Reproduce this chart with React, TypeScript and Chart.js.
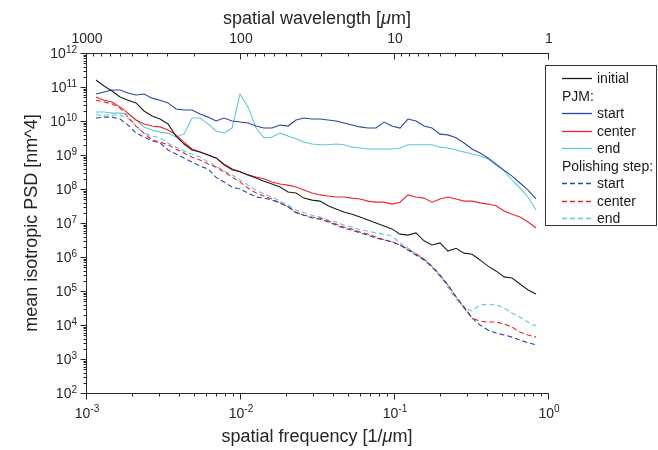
import React, { useEffect, useRef } from "react";
import { Chart, registerables } from "chart.js";

Chart.register(...registerables);

// spatial frequency [1/um]
const FREQUENCY = [
  1.161e-3, 1.309e-3, 1.475e-3, 1.663e-3, 1.874e-3, 2.113e-3, 2.381e-3, 2.683e-3,
  3.025e-3, 3.41e-3, 3.84e-3, 4.33e-3, 4.88e-3, 5.5e-3, 6.2e-3, 6.99e-3, 7.88e-3, 8.88e-3,
  1.0e-2, 1.127e-2, 1.271e-2, 1.432e-2, 1.614e-2, 1.819e-2, 2.05e-2, 2.31e-2, 2.6e-2, 2.94e-2,
  3.31e-2, 3.73e-2, 4.2e-2, 4.73e-2, 5.34e-2, 6.01e-2, 6.78e-2, 7.64e-2, 8.61e-2, 9.7e-2,
  0.1094, 0.1233, 0.1389, 0.1566, 0.1765, 0.199, 0.224, 0.253, 0.285, 0.321, 0.362, 0.408,
  0.46, 0.518, 0.584, 0.658, 0.742, 0.836,
];

const INITIAL = [
  1.6e11, 1.07e11, 7.6e10, 5.1e10, 4.1e10, 3.4e10, 1.97e10, 1.4e10,
  1.14e10, 8.2e9, 3.6e9, 2.1e9, 1.4e9, 1.22e9, 1.0e9, 8.2e8, 5.4e8, 3.9e8,
  3.2e8, 2.6e8, 2.1e8, 1.7e8, 1.4e8, 1.14e8, 8.2e7, 7.6e7, 5.4e7, 4.7e7,
  4.4e7, 3.2e7, 2.6e7, 2.1e7, 1.8e7, 1.5e7, 1.22e7, 1.0e7, 8.2e6, 6.7e6,
  4.7e6, 4.4e6, 5.1e6, 3.0e6, 2.25e6, 2.6e6, 1.5e6, 1.8e6, 1.3e6, 1.2e6, 8.2e5, 5.4e5,
  3.9e5, 2.6e5, 2.4e5, 1.6e5, 1.07e5, 8.2e4,
];

const PJM_START = [
  6.2e10, 7.1e10, 8.2e10, 8.2e10, 6.7e10, 5.8e10, 6.2e10, 4.7e10,
  4.1e10, 3.4e10, 2.25e10, 2.1e10, 2.1e10, 1.6e10, 1.3e10, 1.0e10, 1.22e10, 1.0e10,
  9.3e9, 8.7e9, 7.1e9, 6.2e9, 6.2e9, 7.6e9, 7.1e9, 1.07e10, 1.22e10, 1.14e10,
  1.14e10, 1.07e10, 1.0e10, 8.7e9, 7.6e9, 6.7e9, 6.2e9, 6.2e9, 9.3e9, 7.1e9,
  6.2e9, 1.14e10, 1.0e10, 7.1e9, 6.2e9, 4.1e9, 3.9e9, 3.2e9, 2.25e9, 1.5e9, 1.14e9, 8.2e8,
  5.4e8, 3.6e8, 2.4e8, 1.5e8, 9.3e7, 5.1e7,
];

const PJM_CENTER = [
  5.1e10, 4.1e10, 3.6e10, 2.6e10, 1.7e10, 1.07e10, 8.2e9, 7.1e9,
  6.7e9, 5.4e9, 3.9e9, 2.4e9, 1.5e9, 1.22e9, 1.0e9, 8.2e8, 5.1e8, 3.6e8,
  3.2e8, 2.6e8, 2.25e8, 2.0e8, 1.6e8, 1.4e8, 1.3e8, 1.14e8, 9.3e7, 7.6e7,
  6.7e7, 6.2e7, 5.8e7, 5.8e7, 5.4e7, 5.1e7, 4.4e7, 4.1e7, 4.1e7, 3.6e7,
  4.1e7, 6.7e7, 5.8e7, 5.4e7, 4.1e7, 5.1e7, 5.8e7, 5.1e7, 4.4e7, 4.4e7, 3.9e7, 3.6e7,
  3.2e7, 2.25e7, 1.8e7, 1.5e7, 1.07e7, 7.1e6,
];

const PJM_END = [
  1.84e10, 1.84e10, 1.7e10, 1.7e10, 1.6e10, 1.07e10, 6.7e9, 5.4e9,
  4.7e9, 4.4e9, 3.4e9, 4.1e9, 1.22e10, 1.22e10, 8.2e9, 5.1e9, 4.4e9, 6.2e9,
  6.2e10, 2.6e10, 6.2e9, 3.2e9, 3.4e9, 4.4e9, 3.6e9, 3.0e9, 2.4e9, 2.1e9,
  2.0e9, 2.0e9, 2.1e9, 2.0e9, 1.7e9, 1.6e9, 1.5e9, 1.5e9, 1.5e9, 1.5e9,
  1.6e9, 2.0e9, 2.0e9, 2.0e9, 2.0e9, 1.7e9, 1.6e9, 1.4e9, 1.22e9, 1.07e9, 9.3e8, 7.6e8,
  5.1e8, 3.4e8, 1.84e8, 1.07e8, 5.8e7, 2.4e7,
];

const POLISH_START = [
  1.22e10, 1.3e10, 1.3e10, 1.14e10, 7.6e9, 4.4e9, 3.4e9, 2.6e9,
  2.25e9, 1.4e9, 1.07e9, 8.2e8, 6.2e8, 4.7e8, 3.9e8, 2.2e8, 1.6e8, 1.14e8,
  1.0e8, 7.6e7, 5.8e7, 5.4e7, 4.7e7, 3.9e7, 3.0e7, 2.0e7, 1.7e7, 1.4e7,
  1.3e7, 1.07e7, 8.7e6, 7.1e6, 6.2e6, 5.1e6, 4.4e6, 3.6e6, 3.2e6, 2.8e6,
  2.25e6, 1.6e6, 1.14e6, 8.2e5, 5.1e5, 2.8e5, 1.5e5, 6.7e4, 3.4e4, 1.6e4, 1.0e4, 7.1e3,
  5.8e3, 5.1e3, 4.4e3, 3.6e3, 3.0e3, 2.6e3,
];

const POLISH_CENTER = [
  4.1e10, 3.6e10, 3.2e10, 2.4e10, 1.3e10, 7.1e9, 4.4e9, 2.8e9,
  2.4e9, 2.0e9, 1.5e9, 1.14e9, 8.7e8, 7.1e8, 5.4e8, 4.4e8, 3.2e8, 2.25e8,
  1.6e8, 1.07e8, 7.6e7, 6.2e7, 5.1e7, 3.9e7, 3.0e7, 2.1e7, 1.7e7, 1.5e7,
  1.4e7, 1.14e7, 9.3e6, 7.6e6, 6.7e6, 5.4e6, 4.7e6, 3.9e6, 3.2e6, 2.8e6,
  2.25e6, 1.7e6, 1.22e6, 8.7e5, 5.4e5, 3.0e5, 1.5e5, 6.7e4, 3.2e4, 1.6e4, 1.3e4, 1.22e4,
  1.22e4, 1.07e4, 8.7e3, 6.2e3, 5.1e3, 4.4e3,
];

const POLISH_END = [
  1.5e10, 1.5e10, 1.5e10, 1.5e10, 1.22e10, 7.1e9, 4.4e9, 3.6e9,
  3.2e9, 2.25e9, 1.7e9, 1.3e9, 1.07e9, 8.7e8, 6.2e8, 4.7e8, 3.4e8, 2.6e8,
  1.84e8, 1.3e8, 9.3e7, 7.1e7, 5.8e7, 4.4e7, 3.4e7, 2.4e7, 2.0e7, 1.7e7,
  1.5e7, 1.22e7, 1.07e7, 8.7e6, 7.6e6, 6.2e6, 5.8e6, 5.1e6, 4.7e6, 4.1e6,
  2.6e6, 1.84e6, 1.22e6, 8.7e5, 5.1e5, 2.8e5, 1.3e5, 5.8e4, 3.2e4, 2.6e4, 3.9e4, 4.1e4,
  3.9e4, 3.2e4, 2.25e4, 1.7e4, 1.22e4, 9.3e3,
];

// axis tick labels
const Y_TICK_EXPONENTS = [2, 3, 4, 5, 6, 7, 8, 9, 10, 11, 12];
const X_TICK_EXPONENTS = [-3, -2, -1, 0];
const WAVELENGTH_TICKS = [1000, 100, 10, 1];
const MINOR_STEPS = [2, 3, 4, 5, 6, 7, 8, 9];

const X_TITLE = ["spatial frequency [1/", "\u03bc", "m]"];
const X2_TITLE = ["spatial wavelength [", "\u03bc", "m]"];
const Y_TITLE = "mean isotropic PSD [nm^4]";

const FONT = "'Liberation Sans', Arial, Helvetica, sans-serif";
const INK = "#262626";
const BLACK = "#1e1e1e";
const BLUE = "#2d45a8";
const RED = "#f0262a";
const CYAN = "#63c7db";
const DASH = [5, 3];

type LegendRow = { text: string; color?: string; dash?: number[] };
const LEGEND_ROWS: LegendRow[] = [
  { text: "initial", color: BLACK, dash: [] },
  { text: "PJM:" },
  { text: "start", color: BLUE, dash: [] },
  { text: "center", color: RED, dash: [] },
  { text: "end", color: CYAN, dash: [] },
  { text: "Polishing step:" },
  { text: "start", color: BLUE, dash: DASH },
  { text: "center", color: RED, dash: DASH },
  { text: "end", color: CYAN, dash: DASH },
];

function drawPower(ctx: CanvasRenderingContext2D, exp: string, x: number, base: number, align: "center" | "right") {
  ctx.font = `14px ${FONT}`;
  const wb = ctx.measureText("10").width;
  ctx.font = `10px ${FONT}`;
  const we = ctx.measureText(exp).width;
  const total = wb + we;
  const x0 = align === "center" ? x - total / 2 : x - total;
  ctx.textAlign = "left";
  ctx.textBaseline = "alphabetic";
  ctx.font = `14px ${FONT}`;
  ctx.fillText("10", x0, base);
  ctx.font = `10px ${FONT}`;
  ctx.fillText(exp, x0 + wb, base - 5.5);
}

function drawMixed(ctx: CanvasRenderingContext2D, parts: string[], cx: number, base: number, size: number) {
  const fonts = parts.map((_, i) => (i === 1 ? `italic ${size}px ${FONT}` : `${size}px ${FONT}`));
  const widths = parts.map((p, i) => {
    ctx.font = fonts[i];
    return ctx.measureText(p).width;
  });
  const total = widths.reduce((a, b) => a + b, 0);
  let x = cx - total / 2;
  ctx.textAlign = "left";
  ctx.textBaseline = "alphabetic";
  parts.forEach((p, i) => {
    ctx.font = fonts[i];
    ctx.fillText(p, x, base);
    x += widths[i];
  });
}

const axesPlugin = {
  id: "psdAxes",
  afterDraw(chart: any) {
    const ctx: CanvasRenderingContext2D = chart.ctx;
    const { left, right, top, bottom } = chart.chartArea;
    const xs = chart.scales.x;
    const x2 = chart.scales.x2;
    const ys = chart.scales.y;
    const L = Math.round(left) + 0.5;
    const B = Math.round(bottom) + 0.5;
    const T = Math.round(top) + 0.5;
    ctx.save();
    ctx.strokeStyle = INK;
    ctx.fillStyle = INK;
    ctx.lineWidth = 1;
    ctx.setLineDash([]);

    // axis lines
    ctx.beginPath();
    ctx.moveTo(L, Math.round(top));
    ctx.lineTo(L, B);
    ctx.moveTo(Math.round(left), B);
    ctx.lineTo(Math.round(right) + 1, B);
    ctx.moveTo(Math.round(left), T);
    ctx.lineTo(Math.round(right) + 1, T);
    ctx.stroke();

    // ticks
    ctx.beginPath();
    X_TICK_EXPONENTS.forEach((e, i) => {
      const px = Math.round(xs.getPixelForValue(Math.pow(10, e))) + 0.5;
      ctx.moveTo(px, B);
      ctx.lineTo(px, B + 6);
      if (i < X_TICK_EXPONENTS.length - 1) {
        MINOR_STEPS.forEach((m) => {
          const mx = Math.round(xs.getPixelForValue(m * Math.pow(10, e))) + 0.5;
          ctx.moveTo(mx, B);
          ctx.lineTo(mx, B + 3);
        });
      }
    });
    Y_TICK_EXPONENTS.forEach((e, i) => {
      const py = Math.round(ys.getPixelForValue(Math.pow(10, e))) + 0.5;
      ctx.moveTo(L, py);
      ctx.lineTo(L - 6, py);
      if (i < Y_TICK_EXPONENTS.length - 1) {
        MINOR_STEPS.forEach((m) => {
          const my = Math.round(ys.getPixelForValue(m * Math.pow(10, e))) + 0.5;
          ctx.moveTo(L, my);
          ctx.lineTo(L - 3, my);
        });
      }
    });
    WAVELENGTH_TICKS.forEach((w, i) => {
      const px = Math.round(x2.getPixelForValue(w)) + 0.5;
      ctx.moveTo(px, T);
      ctx.lineTo(px, T + 6);
      if (i < WAVELENGTH_TICKS.length - 1) {
        MINOR_STEPS.forEach((m) => {
          const mx = Math.round(x2.getPixelForValue((m * w) / 10)) + 0.5;
          ctx.moveTo(mx, T);
          ctx.lineTo(mx, T + 3);
        });
      }
    });
    ctx.stroke();

    // tick labels
    X_TICK_EXPONENTS.forEach((e) => {
      const px = xs.getPixelForValue(Math.pow(10, e));
      drawPower(ctx, String(e), px + 1, bottom + 24.5, "center");
    });
    Y_TICK_EXPONENTS.forEach((e) => {
      const py = ys.getPixelForValue(Math.pow(10, e));
      drawPower(ctx, String(e), left - 9, py + 5, "right");
    });
    ctx.font = `14px ${FONT}`;
    ctx.textAlign = "center";
    ctx.textBaseline = "alphabetic";
    WAVELENGTH_TICKS.forEach((w) => {
      const px = x2.getPixelForValue(w);
      ctx.fillText(String(w), px + 1, top - 10);
    });

    // titles
    const cx = (left + right) / 2;
    drawMixed(ctx, X_TITLE, cx, bottom + 49, 18);
    drawMixed(ctx, X2_TITLE, cx, top - 29, 18);
    ctx.save();
    ctx.translate(37, (top + bottom) / 2);
    ctx.rotate(-Math.PI / 2);
    ctx.font = `18px ${FONT}`;
    ctx.textAlign = "center";
    ctx.fillText(Y_TITLE, 0, 0);
    ctx.restore();

    // legend
    const bx = 545.5;
    const by = 65.5;
    ctx.fillStyle = "#ffffff";
    ctx.fillRect(bx, by, 111, 160);
    ctx.strokeStyle = "#333333";
    ctx.strokeRect(bx, by, 111, 160);
    ctx.font = `14px ${FONT}`;
    ctx.textAlign = "left";
    LEGEND_ROWS.forEach((row, i) => {
      const cy = 78 + i * 17.5;
      ctx.fillStyle = "#1a1a1a";
      if (row.color) {
        ctx.save();
        ctx.strokeStyle = row.color;
        ctx.lineWidth = 1.3;
        ctx.setLineDash(row.dash || []);
        ctx.beginPath();
        ctx.moveTo(562, Math.round(cy) + 0.5);
        ctx.lineTo(592, Math.round(cy) + 0.5);
        ctx.stroke();
        ctx.restore();
        ctx.fillText(row.text, 597, cy + 5);
      } else {
        ctx.fillText(row.text, 562, cy + 5);
      }
    });
    ctx.restore();
  },
};

function series(values: number[]) {
  return FREQUENCY.map((f, i) => ({ x: f, y: values[i] }));
}

export default function App() {
  const ref = useRef<HTMLCanvasElement | null>(null);

  useEffect(() => {
    document.body.style.margin = "0";
    const canvas = ref.current;
    if (!canvas) return;
    const ds = (label: string, values: number[], color: string, dash: number[]) => ({
      label,
      data: series(values),
      borderColor: color,
      backgroundColor: color,
      borderWidth: 1.1,
      borderDash: dash,
      pointRadius: 0,
      tension: 0,
      fill: false,
    });
    const chart = new Chart(canvas, {
      type: "line",
      data: {
        datasets: [
          ds("initial", INITIAL, BLACK, []),
          ds("PJM start", PJM_START, BLUE, []),
          ds("PJM center", PJM_CENTER, RED, []),
          ds("PJM end", PJM_END, CYAN, []),
          ds("Polishing start", POLISH_START, BLUE, DASH),
          ds("Polishing center", POLISH_CENTER, RED, DASH),
          ds("Polishing end", POLISH_END, CYAN, DASH),
        ],
      },
      options: {
        animation: false,
        responsive: false,
        events: [],
        layout: { padding: { left: 86, right: 110, top: 53, bottom: 57 } },
        plugins: { legend: { display: false }, tooltip: { enabled: false } },
        scales: {
          x: { type: "logarithmic", min: 1e-3, max: 1, display: false },
          x2: { type: "logarithmic", position: "top", min: 1, max: 1000, reverse: true, display: false },
          y: { type: "logarithmic", min: 1e2, max: 1e12, display: false },
        },
      },
      plugins: [axesPlugin],
    } as any);
    return () => chart.destroy();
  }, []);

  return (
    <canvas
      ref={ref}
      width={658}
      height={450}
      style={{ display: "block", position: "absolute", left: 0, top: 0 }}
    />
  );
}
